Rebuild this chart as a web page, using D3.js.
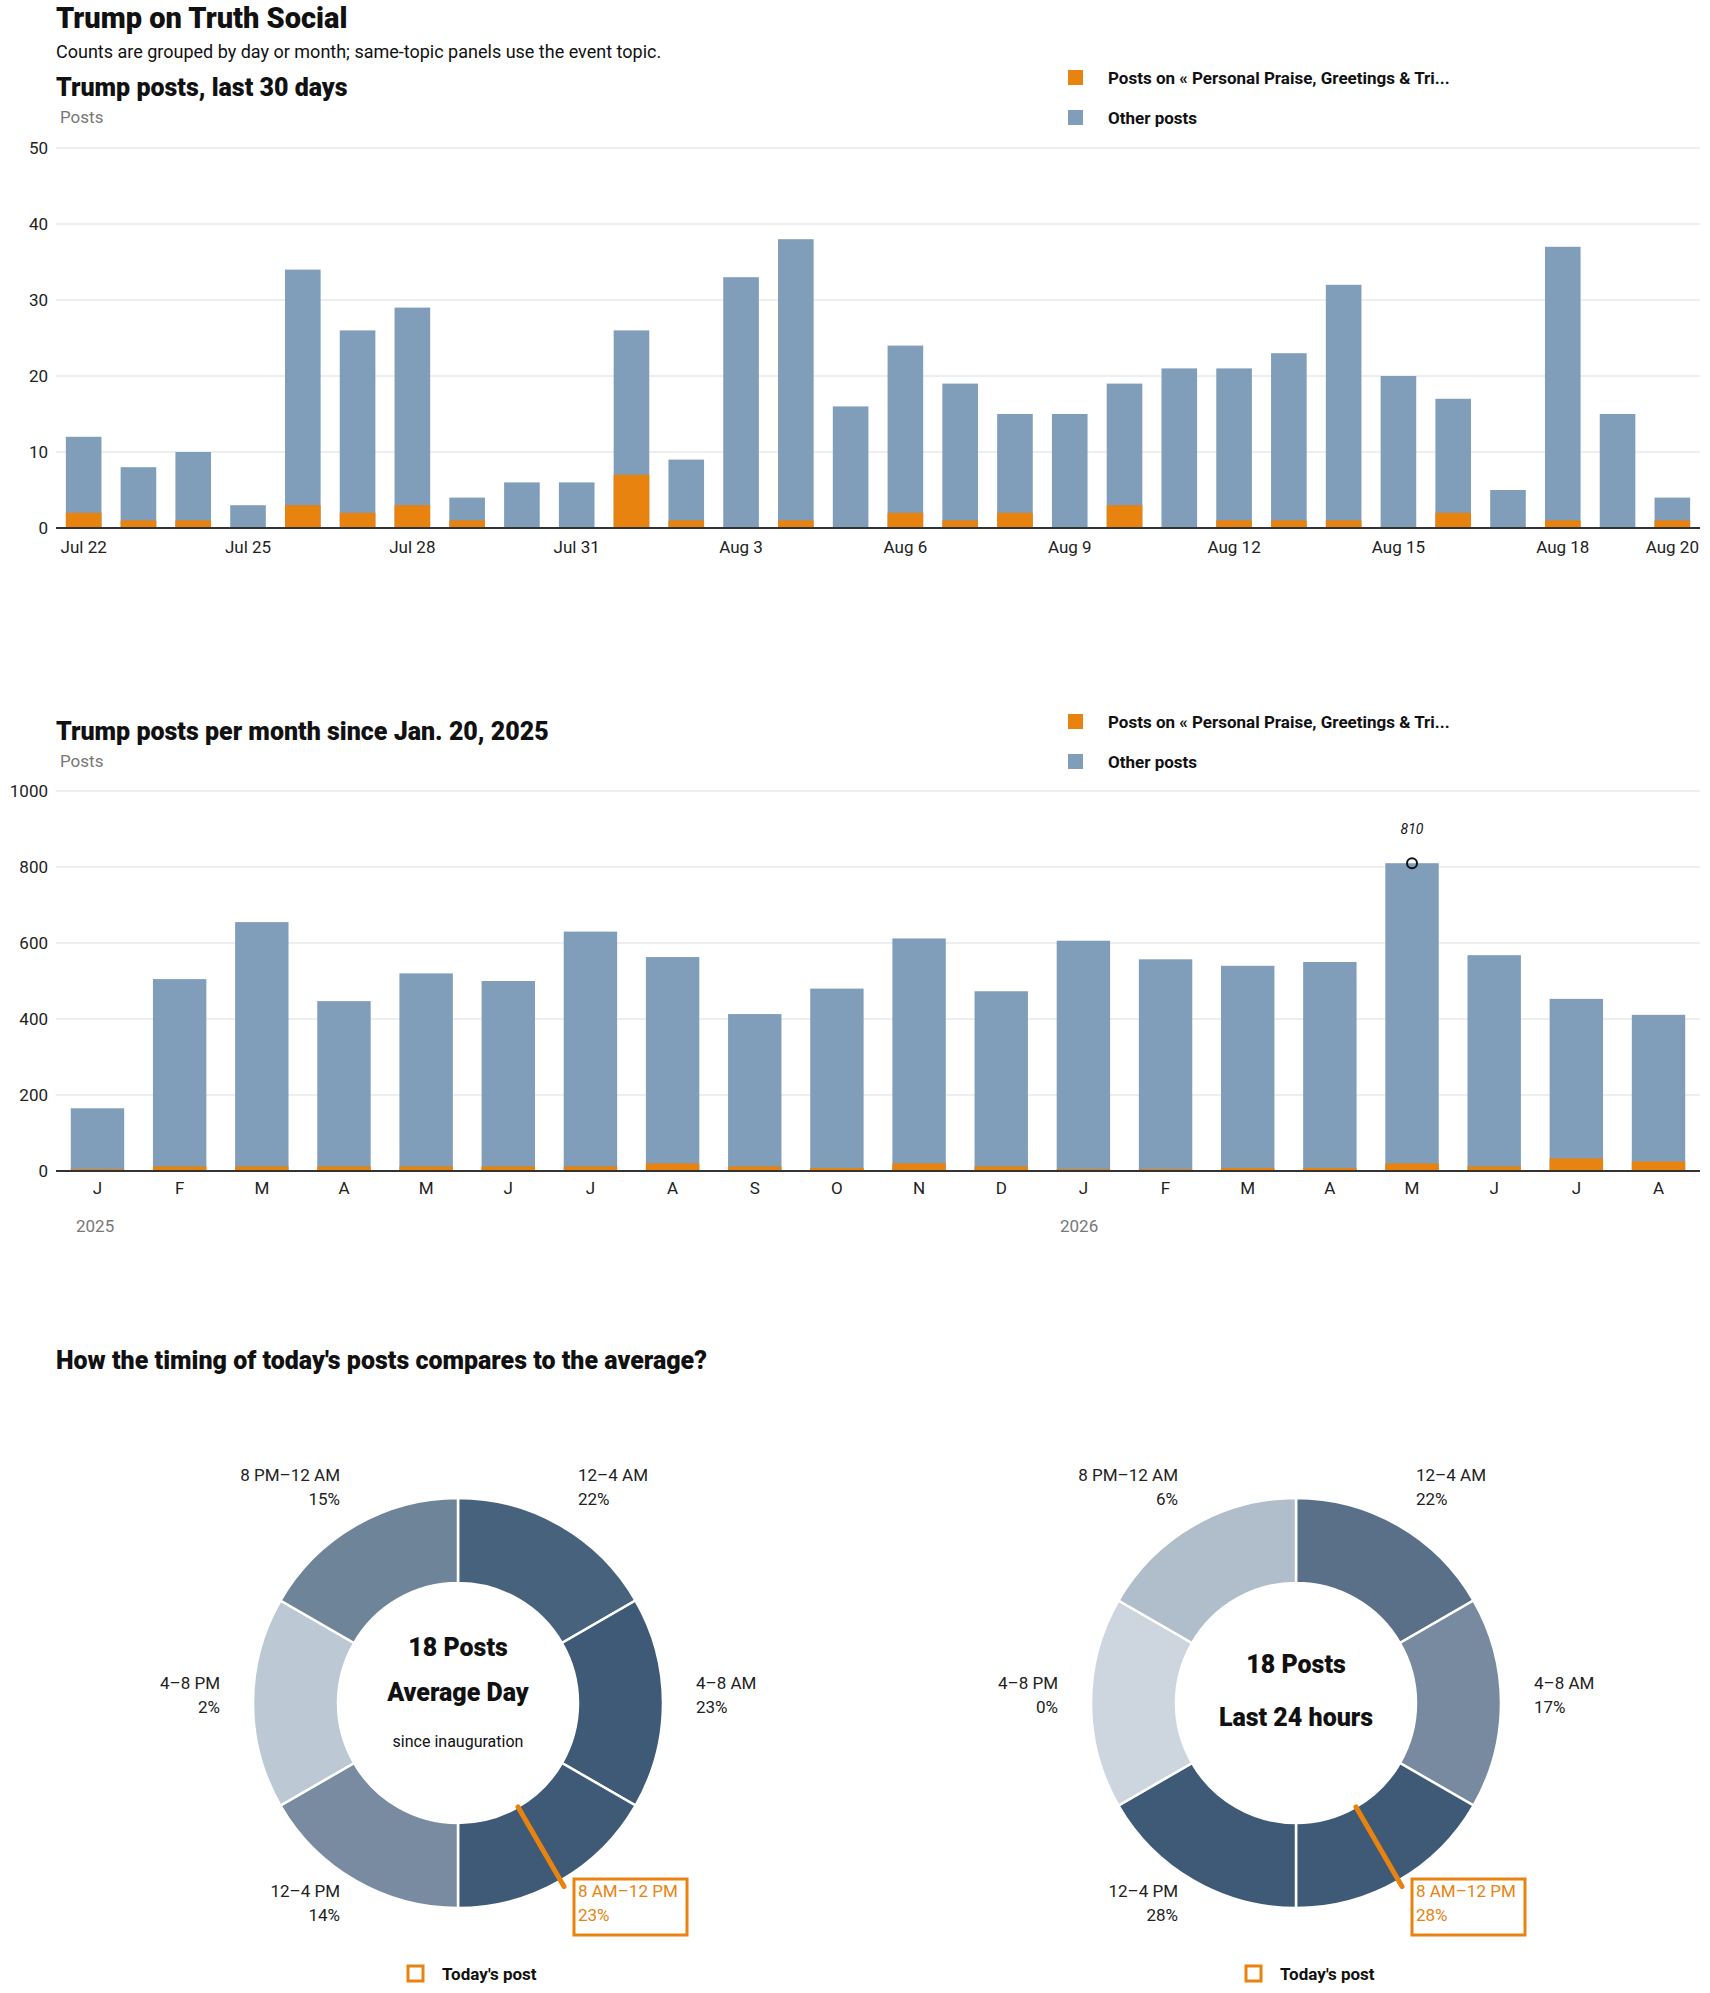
<!DOCTYPE html>
<html><head><meta charset="utf-8">
<script src="https://cdn.jsdelivr.net/npm/d3@7"></script>
<style>body{margin:0;background:#fff}svg{display:block}text{font-family:Roboto,"Noto Sans",sans-serif}</style>
</head><body><svg id="c" width="1710" height="1993"></svg>
<script>
const dayLabels=["Jul 22","Jul 23","Jul 24","Jul 25","Jul 26","Jul 27","Jul 28","Jul 29","Jul 30","Jul 31","Aug 1","Aug 2","Aug 3","Aug 4","Aug 5","Aug 6","Aug 7","Aug 8","Aug 9","Aug 10","Aug 11","Aug 12","Aug 13","Aug 14","Aug 15","Aug 16","Aug 17","Aug 18","Aug 19","Aug 20"];
const dayTotal=[12,8,10,3,34,26,29,4,6,6,26,9,33,38,16,24,19,15,15,19,21,21,23,32,20,17,5,37,15,4];
const dayTopic=[2,1,1,0,3,2,3,1,0,0,7,1,0,1,0,2,1,2,0,3,0,1,1,1,0,2,0,1,0,1];
const dayTicks=["Jul 22","Jul 25","Jul 28","Jul 31","Aug 3","Aug 6","Aug 9","Aug 12","Aug 15","Aug 18","Aug 20"];
const monthKeys=["2025-01","2025-02","2025-03","2025-04","2025-05","2025-06","2025-07","2025-08","2025-09","2025-10","2025-11","2025-12","2026-01","2026-02","2026-03","2026-04","2026-05","2026-06","2026-07","2026-08"];
const monthLabels=["J","F","M","A","M","J","J","A","S","O","N","D","J","F","M","A","M","J","J","A"];
const monthTotal=[165,505,655,447,520,500,630,563,413,480,612,473,606,557,540,550,810,568,453,411];
const monthTopic=[5,12,12,12,12,12,12,20,12,8,20,12,5,5,8,8,20,12,33,25];
const slotLabels=["12–4 AM","4–8 AM","8 AM–12 PM","12–4 PM","4–8 PM","8 PM–12 AM"];
const avgPct=[22,23,23,14,2,15];
const todayPct=[22,17,28,28,0,6];
const avgColors=["#46627d","#3e5a76","#3e5a76","#788ba0","#bcc8d4","#6e8498"];
const todayColors=["#5a7089","#778a9f","#3e5a76","#3e5a76","#cdd6df","#b0bdca"];
const ORANGE="#e8830f",BLUE="#809db9";
const svg=d3.select("#c");
const T=(x,y,s,o={})=>{const t=svg.append("text").attr("x",x).attr("y",y).text(s).attr("font-size",o.size||16).attr("fill",o.fill||"#111").attr("font-weight",o.w||400);if(o.a)t.attr("text-anchor",o.a);if(o.i)t.attr("font-style","italic");return t;};
T(56,28,"Trump on Truth Social",{size:29,w:900});
T(56,58,"Counts are grouped by day or month; same-topic panels use the event topic.",{size:18});
function legend(y){
  svg.append("rect").attr("x",1068).attr("y",y-7).attr("width",15).attr("height",15).attr("fill",ORANGE);
  T(1108,y+7,"Posts on « Personal Praise, Greetings & Tri...",{size:17,w:700});
  svg.append("rect").attr("x",1068).attr("y",y+33).attr("width",15).attr("height",15).attr("fill",BLUE);
  T(1108,y+47,"Other posts",{size:17,w:700});
}
function barChart(o){
  T(56,o.titleY,o.title,{size:25,w:900});
  T(60,o.titleY+27,"Posts",{size:17,fill:"#777"});
  legend(o.legY);
  const x=d3.scaleBand().domain(o.keys).range([56,1700]).paddingInner(0.35).paddingOuter(0.18);
  const y=d3.scaleLinear().domain([0,o.max]).range([o.y0,o.y1]);
  const g=svg.append("g");
  o.yt.forEach(v=>{g.append("line").attr("x1",56).attr("x2",1700).attr("y1",y(v)).attr("y2",y(v)).attr("stroke","#ddd");
    T(48,y(v)+6,v,{size:17,a:"end",fill:"#222"});});
  o.keys.forEach((k,i)=>{
    g.append("rect").attr("x",x(k)).attr("width",x.bandwidth()).attr("y",y(o.total[i])).attr("height",y(0)-y(o.total[i])).attr("fill",BLUE);
    g.append("rect").attr("x",x(k)).attr("width",x.bandwidth()).attr("y",y(o.topic[i])).attr("height",y(0)-y(o.topic[i])).attr("fill",ORANGE);
  });
  g.append("line").attr("x1",56).attr("x2",1700).attr("y1",y(0)).attr("y2",y(0)).attr("stroke","#333").attr("stroke-width",2);
  return {x,y};
}
const c1=barChart({title:"Trump posts, last 30 days",titleY:96,legY:77,keys:dayLabels,total:dayTotal,topic:dayTopic,max:50,y0:528,y1:148,yt:[0,10,20,30,40,50]});
dayTicks.forEach(d=>T(c1.x(d)+c1.x.bandwidth()/2,553,d,{size:17,a:"middle",fill:"#222"}));
const c2=barChart({title:"Trump posts per month since Jan. 20, 2025",titleY:740,legY:721,keys:monthKeys,total:monthTotal,topic:monthTopic,max:1000,y0:1171,y1:791,yt:[0,200,400,600,800,1000]});
monthKeys.forEach((k,i)=>T(c2.x(k)+c2.x.bandwidth()/2,1194,monthLabels[i],{size:17,a:"middle",fill:"#222"}));
T(76,1232,"2025",{size:17,fill:"#777"});T(1060,1232,"2026",{size:17,fill:"#777"});
const mi=monthTotal.indexOf(d3.max(monthTotal));const mx=c2.x(monthKeys[mi])+c2.x.bandwidth()/2;
svg.append("circle").attr("cx",mx).attr("cy",c2.y(monthTotal[mi])).attr("r",5).attr("fill","none").attr("stroke","#111").attr("stroke-width",2);
T(mx,834,monthTotal[mi],{size:14,a:"middle",i:true}).attr("font-family","DejaVu Serif");
T(56,1369,"How the timing of today's posts compares to the average?",{size:25,w:900});
function donut(cx,cy,pct,cols,l1,l2,sub){
  const pie=d3.pie().value(1).sort(null);
  const arc=d3.arc().innerRadius(120).outerRadius(205);
  const g=svg.append("g").attr("transform",`translate(${cx},${cy})`);
  g.selectAll("path").data(pie(slotLabels)).join("path").attr("d",arc).attr("fill",(d,i)=>cols[i]).attr("stroke","#fff").attr("stroke-width",2.5);
  const lp=[[120,-222,"start"],[238,-14,"start"],[120,194,"start"],[-118,194,"end"],[-238,-14,"end"],[-118,-222,"end"]];
  slotLabels.forEach((s,i)=>{
    const [dx,dy,a]=lp[i];const col=i==2?ORANGE:"#222";
    T(cx+dx,cy+dy,s,{size:17,a,fill:col});T(cx+dx,cy+dy+24,pct[i]+"%",{size:17,a,fill:col});
  });
  g.append("rect").attr("x",116).attr("y",176).attr("width",113).attr("height",56).attr("fill","none").attr("stroke",ORANGE).attr("stroke-width",3);
  const ang=150*Math.PI/180;
  g.append("line").attr("x1",120*Math.sin(ang)).attr("y1",-120*Math.cos(ang)).attr("x2",212*Math.sin(ang)).attr("y2",-212*Math.cos(ang)).attr("stroke",ORANGE).attr("stroke-width",5).attr("stroke-linecap","round");
  if(sub){T(cx,cy-47,l1,{size:25,w:900,a:"middle"});T(cx,cy-2,l2,{size:25,w:900,a:"middle"});T(cx,cy+44,sub,{size:16,a:"middle"});}
  else{T(cx,cy-30,l1,{size:25,w:900,a:"middle"});T(cx,cy+23,l2,{size:25,w:900,a:"middle"});}
  svg.append("rect").attr("x",cx-50).attr("y",1966).attr("width",15).attr("height",15).attr("fill","none").attr("stroke",ORANGE).attr("stroke-width",3);
  T(cx-16,1980,"Today's post",{size:17,w:700});
}
donut(458,1703,avgPct,avgColors,"18 Posts","Average Day","since inauguration");
donut(1296,1703,todayPct,todayColors,"18 Posts","Last 24 hours",null);
</script></body></html>
